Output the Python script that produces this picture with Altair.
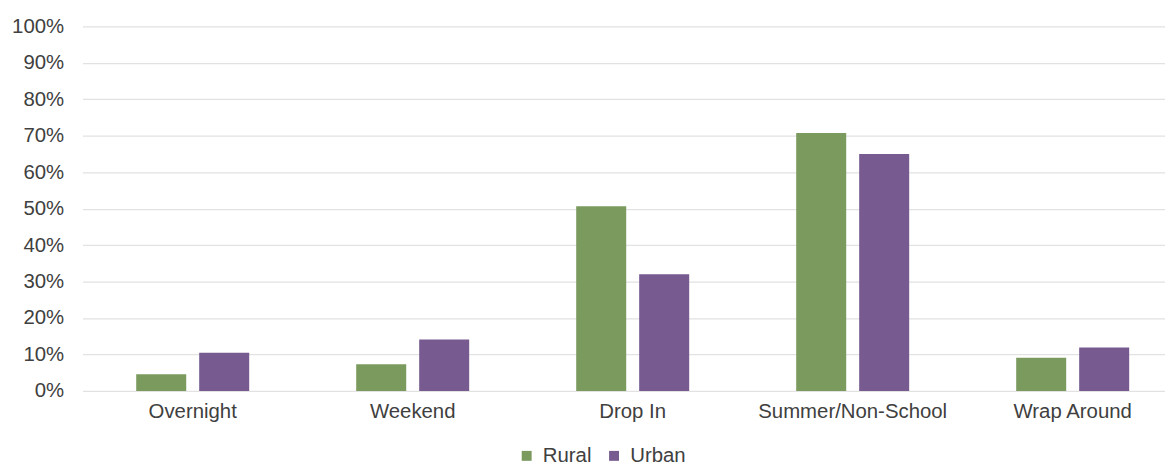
import altair as alt
import pandas as pd

categories = ["Overnight", "Weekend", "Drop In", "Summer/Non-School", "Wrap Around"]
rural = [4.6, 7.3, 50.7, 70.8, 9.1]
urban = [10.5, 14.1, 32.0, 65.0, 11.9]
series = ["Rural", "Urban"]
colors = ["#7B9A5E", "#765A90"]

rows = []
for i, c in enumerate(categories):
    rows.append({"category": c, "group": "Rural", "value": rural[i] / 100})
    rows.append({"category": c, "group": "Urban", "value": urban[i] / 100})
df = pd.DataFrame(rows)

FONT = "Liberation Sans"
TXT = "#404040"

chart = alt.Chart(df).mark_bar().encode(
    x=alt.X("category:N", sort=categories,
            scale=alt.Scale(paddingInner=0.4864, paddingOuter=0.2035, align=0.6,
                            round=False),
            axis=alt.Axis(title=None, labelAngle=0, labelFont=FONT, labelFontSize=20.5,
                          labelColor=TXT, labelPadding=11, ticks=False, domain=False,
                          grid=False, labelLimit=400)),
    xOffset=alt.XOffset("group:N", sort=series,
                        scale=alt.Scale(paddingInner=0.206, paddingOuter=0, round=False)),
    y=alt.Y("value:Q", scale=alt.Scale(domain=[0, 1], nice=False),
            axis=alt.Axis(title=None, format=".0%", values=[i / 10 for i in range(11)],
                          labelFont=FONT, labelFontSize=20.5, labelColor=TXT,
                          labelPadding=19, ticks=False, domain=False,
                          gridColor="#e2e2e2", gridWidth=1.3)),
    color=alt.Color("group:N", sort=series,
                    scale=alt.Scale(domain=series, range=colors),
                    legend=alt.Legend(title=None, orient="none", direction="horizontal",
                                      legendX=437, legendY=422,
                                      symbolType="square", symbolSize=100,
                                      symbolStrokeWidth=0,
                                      labelFont=FONT, labelFontSize=20.5, labelColor=TXT,
                                      labelOffset=6, columnPadding=12)),
).properties(
    width=1090,
    height=367,
    autosize=alt.AutoSizeParams(type="none"),
    padding={"left": 75, "top": 17, "right": 0, "bottom": 73},
).configure_view(stroke=None)

chart.save("out.html", embed_options={"renderer": "svg", "actions": False})
